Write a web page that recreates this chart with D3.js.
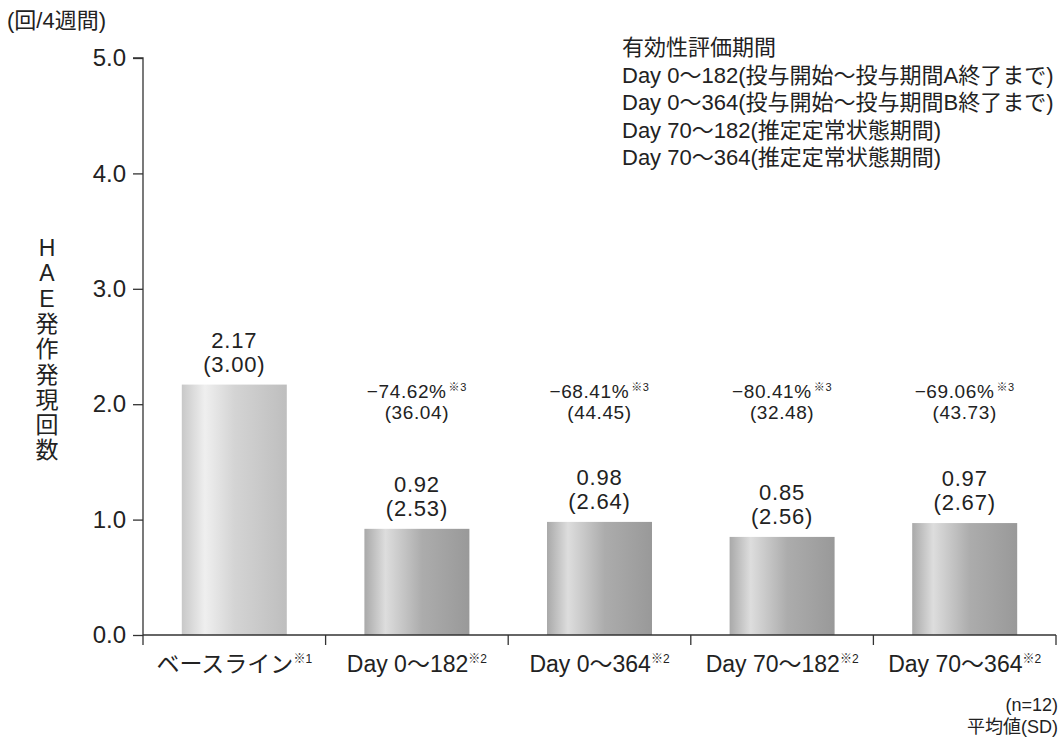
<!DOCTYPE html>
<html>
<head>
<meta charset="utf-8">
<script src="https://cdn.jsdelivr.net/npm/d3@7"></script>
<style>
  html, body { margin: 0; padding: 0; background: #fff; }
  svg { display: block; }
  text { font-family: "Liberation Sans", "Noto Sans CJK JP", sans-serif; fill: #222; }
</style>
</head>
<body>
<svg id="chart" width="1061" height="737"></svg>
<script>
// Categories and their footnote marks
const categories = ["ベースライン", "Day 0〜182", "Day 0〜364", "Day 70〜182", "Day 70〜364"];
const categoryNotes = ["※1", "※2", "※2", "※2", "※2"];

// Mean HAE attack rate per 4 weeks, and SD
const meanValues = [2.17, 0.92, 0.98, 0.85, 0.97];
const sdValues = [3.00, 2.53, 2.64, 2.56, 2.67];

// Percent change from baseline (mean) and its SD; null for baseline
const pctChange = [null, "−74.62%", "−68.41%", "−80.41%", "−69.06%"];
const pctSd = [null, "36.04", "44.45", "32.48", "43.73"];

// Y axis ticks
const yTicks = [0, 1, 2, 3, 4, 5];

// Legend lines
const legendLines = [
  "有効性評価期間",
  "Day 0〜182(投与開始〜投与期間A終了まで)",
  "Day 0〜364(投与開始〜投与期間B終了まで)",
  "Day 70〜182(推定定常状態期間)",
  "Day 70〜364(推定定常状態期間)"
];

const svg = d3.select("#chart");
const margin = { left: 143, right: 1056, top: 58, bottom: 635 };

const x = d3.scaleBand()
  .domain(categories)
  .range([margin.left, margin.right])
  .paddingInner(0.425)
  .paddingOuter(0.2125);

const y = d3.scaleLinear().domain([0, 5]).range([margin.bottom, margin.top]);

// Bar gradients
const defs = svg.append("defs");
function makeGrad(id, stops) {
  const g = defs.append("linearGradient").attr("id", id)
    .attr("x1", "0%").attr("x2", "100%").attr("y1", "0%").attr("y2", "0%");
  stops.forEach(s => g.append("stop").attr("offset", s[0]).attr("stop-color", s[1]));
}
makeGrad("gradBase", [["0%", "#c8c8c8"], ["22%", "#efefef"], ["50%", "#d4d4d4"], ["100%", "#bebebe"]]);
makeGrad("gradDay", [["0%", "#a9a9a9"], ["20%", "#dddddd"], ["55%", "#acacac"], ["100%", "#999999"]]);

// Bars
svg.append("g").selectAll("rect")
  .data(categories)
  .join("rect")
  .attr("x", d => x(d))
  .attr("width", x.bandwidth())
  .attr("y", (d, i) => y(meanValues[i]))
  .attr("height", (d, i) => y(0) - y(meanValues[i]))
  .attr("fill", (d, i) => i === 0 ? "url(#gradBase)" : "url(#gradDay)");

// Y axis
const yAxis = d3.axisLeft(y).tickValues(yTicks).tickFormat(d3.format(".1f")).tickSize(10).tickPadding(7);
const gy = svg.append("g").attr("transform", `translate(${margin.left},0)`).call(yAxis);
gy.select(".domain").attr("stroke", "#333").attr("stroke-width", 1.3).attr("d", `M-10,${y(5)}H0V${y(0)}`);
gy.selectAll(".tick line").attr("stroke", "#333").attr("stroke-width", 1.3);
gy.selectAll(".tick text").attr("font-size", 24).attr("fill", "#333")
  .style("font-family", "'Liberation Sans', sans-serif");

// X axis baseline with separator ticks at each band edge
const xg = svg.append("g");
xg.append("line").attr("x1", margin.left).attr("x2", margin.right)
  .attr("y1", y(0)).attr("y2", y(0)).attr("stroke", "#333").attr("stroke-width", 1.3);
const edges = [margin.left].concat(categories.map(c => x(c) + x.bandwidth() + x.step() * x.paddingInner() / 2));
edges[edges.length - 1] = margin.right;
xg.selectAll("line.sep").data(edges).join("line").attr("class", "sep")
  .attr("x1", d => d).attr("x2", d => d)
  .attr("y1", y(0)).attr("y2", y(0) + 10)
  .attr("stroke", "#333").attr("stroke-width", 1.3);

// X labels
const xl = svg.append("g").selectAll("text").data(categories).join("text")
  .attr("x", d => x(d) + x.bandwidth() / 2)
  .attr("y", 672)
  .attr("text-anchor", "middle")
  .attr("font-size", 23)
  .attr("fill", "#222");
xl.append("tspan").text(d => d);
xl.append("tspan").text((d, i) => categoryNotes[i]).attr("font-size", 12).attr("dy", -9);

// Mean (SD) labels above bars
const vl = svg.append("g").selectAll("g").data(categories).join("g");
vl.append("text")
  .attr("x", d => x(d) + x.bandwidth() / 2)
  .attr("y", (d, i) => y(meanValues[i]) - 37)
  .attr("text-anchor", "middle").attr("font-size", 22).attr("letter-spacing", 0.8)
  .text((d, i) => meanValues[i].toFixed(2));
vl.append("text")
  .attr("x", d => x(d) + x.bandwidth() / 2)
  .attr("y", (d, i) => y(meanValues[i]) - 13)
  .attr("text-anchor", "middle").attr("font-size", 22).attr("letter-spacing", 0.8)
  .text((d, i) => "(" + sdValues[i].toFixed(2) + ")");

// Percent change labels
const pData = categories.map((c, i) => ({ c, p: pctChange[i], s: pctSd[i] })).filter(d => d.p);
const pt = svg.append("g").selectAll("text.pct").data(pData).join("text").attr("class", "pct")
  .attr("x", d => x(d.c) + x.bandwidth() / 2)
  .attr("y", 398)
  .attr("text-anchor", "middle").attr("font-size", 19).attr("letter-spacing", 0.6);
pt.append("tspan").text(d => d.p);
pt.append("tspan").text("※3").attr("font-size", 11).attr("dy", -7).attr("dx", 2);
svg.append("g").selectAll("text").data(pData).join("text")
  .attr("x", d => x(d.c) + x.bandwidth() / 2)
  .attr("y", 419)
  .attr("text-anchor", "middle").attr("font-size", 19).attr("letter-spacing", 0.6)
  .text(d => "(" + d.s + ")");

// Unit label
svg.append("text").attr("x", 7).attr("y", 28).attr("font-size", 22).attr("fill", "#333")
  .text("(回/4週間)");

// Vertical axis title, one glyph per line
const yTitle = "HAE発作発現回数".split("");
const yt = svg.append("text").attr("font-size", 23).attr("fill", "#333").attr("text-anchor", "middle");
yt.selectAll("tspan").data(yTitle).join("tspan")
  .attr("x", 47)
  .attr("y", (d, i) => 256 + i * 25.3)
  .text(d => d);

// Legend text
svg.append("g").selectAll("text").data(legendLines).join("text")
  .attr("x", 622)
  .attr("y", (d, i) => 55 + i * 27.5)
  .attr("font-size", 22)
  .text(d => d);

// Footnote
svg.append("text").attr("x", 1058).attr("y", 711).attr("text-anchor", "end").attr("font-size", 18).text("(n=12)");
svg.append("text").attr("x", 1058).attr("y", 733).attr("text-anchor", "end").attr("font-size", 18).text("平均値(SD)");
</script>
</body>
</html>
